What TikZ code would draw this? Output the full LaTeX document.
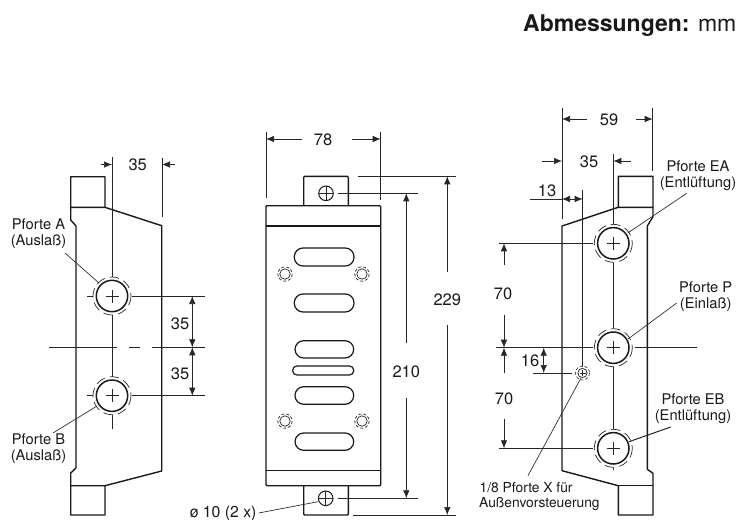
\documentclass[tikz,border=0pt]{standalone}
\usepackage{fontspec}
\setmainfont{TeX Gyre Heros}
\usetikzlibrary{arrows.meta}
\tikzset{
  x=1pt,y=-1pt,
  outline/.style={line width=1.4pt,line join=round,black!90},
  thinl/.style={line width=0.7pt,black!85},
  dimline/.style={thinl,-{Latex[length=8pt,width=6.5pt]}},
  dimboth/.style={thinl,{Latex[length=8pt,width=6.5pt]}-{Latex[length=8pt,width=6.5pt]}},
  leader/.style={line width=0.65pt,black!85},
  dimtxt/.style={inner sep=0pt,font=\fontsize{16.5}{18}\selectfont,text=black!90},
  lbl/.style={inner sep=0pt,align=center,font=\fontsize{14.7}{16}\selectfont,text=black!90},
  dashc/.style={line width=0.7pt,dash pattern=on 9.5pt off 5pt,black!85},
  slotb/.style={line width=1.2pt,rounded corners=8.7pt,black!90},
}
\newcommand{\porthole}[2]{%
  \coordinate (#1) at #2;
  \draw[outline,line width=1.5pt] (#1) circle (15.7);
  \draw[dashc] (#1) circle (19);
  \draw[line width=0.55pt,black!85] ([xshift=-6.5pt]#1) -- ([xshift=6.5pt]#1) ([yshift=-6.5pt]#1) -- ([yshift=6.5pt]#1);
}
\newcommand{\boltmark}[1]{%
  \draw[line width=0.7pt,black!85] #1 circle (5.2);
  \draw[line width=0.7pt,dash pattern=on 3pt off 2pt,black!85] #1 circle (7.2);
}
\newcommand{\screwhole}[2]{%
  \coordinate (#1) at #2;
  \draw[line width=1pt,black!90] (#1) circle (7.3);
  \draw[thinl] ([xshift=-7.3pt]#1) -- ([xshift=7.3pt]#1) ([yshift=-7.3pt]#1) -- ([yshift=7.3pt]#1);
}
\begin{document}
\begin{tikzpicture}
\useasboundingbox (0,0) rectangle (756,520);
% title
\node[anchor=base west,inner sep=0pt,font=\fontsize{23}{26}\selectfont,text=black!90] (title) at (523,31.5) {\textbf{Abmessungen:} mm};

% ---------- left view
\draw[outline] (70.7,207.3) -- (70.7,176.7) -- (105,176.7) -- (105,207.3) -- (161.7,225.7) -- (161.7,471) -- (105,485.7) -- (105,515) -- (70.7,515) -- (70.7,485.7) -- (105,485.7) -- (70.7,485.7) -- (70.7,473) -- (76,468) -- (76,226) -- (70.7,220) -- (70.7,207.3) -- (105,207.3);
\porthole{la}{(112,296)}
\porthole{lb}{(112,395.7)}
\draw[thinl] (112,157) -- (112,277) (112,315) -- (112,376.5) (112,415) -- (112,429);
\draw[thinl] (87,296) -- (93,296) (131.5,296) -- (205,296);
\draw[thinl] (87,395.7) -- (93,395.7) (131.5,395.7) -- (205,395.7);
\draw[thinl] (49,347.3) -- (117,347.3) (129,347.3) -- (140,347.3) (152,347.3) -- (205,347.3);
\coordinate (ld1) at (100.7,164.5);
\coordinate (ld2) at (112,164.5);
\coordinate (ld3) at (175,164.5);
\coordinate (ld4) at (162,164.5);
\draw[dimline] (ld1) -- (ld2);
\draw[dimline] (ld3) -- (ld4);
\draw[thinl] (162,158) -- (162,217);
\node[dimtxt] (l35a) at (137.7,164.5) {35};
\coordinate (lv1) at (192.3,296);
\coordinate (lv2) at (192.3,347.3);
\coordinate (lv3) at (192.3,395.7);
\draw[dimboth] (lv1) -- (lv2);
\draw[dimboth] (lv2) -- (lv3);
\node[dimtxt] (l35b) at (180,324) {35};
\node[dimtxt] (l35c) at (180,373.5) {35};
\node[lbl] (pa) at (38.5,234) {Pforte A\\(Auslaß)};
\node[lbl] (pb) at (38.5,449) {Pforte B\\(Auslaß)};
\coordinate (pae) at (65,253);
\coordinate (pbe) at (53,433);
\draw[leader] (pae) -- (99,283);
\draw[leader] (pbe) -- (97,406);

% ---------- centre view
\draw[outline,rounded corners=1pt] (266,485.7) rectangle (380.7,205.7);
\draw[outline] (266,226) -- (380.7,226) (266,470.7) -- (380.7,470.7);
\draw[outline,rounded corners=1pt] (303.7,205.7) -- (303.7,176.3) -- (348.3,176.3) -- (348.3,205.7);
\draw[outline,rounded corners=1pt] (303.7,485.7) -- (303.7,515) -- (348.3,515) -- (348.3,485.7);
\screwhole{st}{(326,193.3)}
\screwhole{sb}{(325.7,498.3)}
\draw[slotb] (294.3,248) rectangle (354,266);
\draw[slotb] (294.3,294) rectangle (354,312);
\draw[slotb] (295,340.7) rectangle (353.7,358);
\draw[slotb,rounded corners=4.2pt] (292.7,366) rectangle (353.7,375);
\draw[slotb] (295,386.7) rectangle (353.7,404.3);
\draw[slotb] (295,433) rectangle (353.7,450.3);
\boltmark{(285,274)}
\boltmark{(362,274)}
\boltmark{(285,421)}
\boltmark{(362,421)}
% 78
\draw[thinl] (266,132) -- (266,198) (380.7,132) -- (380.7,200);
\coordinate (c78l) at (266,139);
\coordinate (c78r) at (380.7,139);
\draw[dimline] (301.7,139) -- (c78l);
\draw[dimline] (351.7,139) -- (c78r);
\node[dimtxt] (d78) at (323,139.5) {78};
% 210
\draw[thinl] (338,193.3) -- (418,193.3) (338,498.3) -- (418,498.3);
\draw[dimline] (406.3,343) -- (406.3,193.3);
\draw[dimline] (406.3,398) -- (406.3,498.3);
\node[dimtxt] (d210) at (406.3,371.5) {210};
% 229
\draw[thinl] (358,176.3) -- (456,176.3) (353,515) -- (456,515);
\draw[dimline] (447.3,272) -- (447.3,176.3);
\draw[dimline] (447.3,325) -- (447.3,515);
\node[dimtxt] (d229) at (447.3,300) {229};
% dia
\node[lbl,anchor=east,font=\fontsize{15.8}{17}\selectfont] (dia) at (256.7,513) {ø 10 (2 x)};
\draw[leader] (dia.east) ++(2,0) -- (318,501.7);

% ---------- right view
\draw[outline] (618.3,207.3) -- (618.3,176.3) -- (653,176.3) -- (653,216.7) -- (647.3,226) -- (647.3,469.3) -- (653,473.3) -- (653,515) -- (618.3,515) -- (618.3,485.7) -- (562,470.7) -- (562,226) -- (618.3,207.3) -- (653,207.3);
\draw[outline] (618.3,485.7) -- (653,485.7);
\porthole{rea}{(613.3,243.3)}
\porthole{rp}{(613.3,347.7)}
\porthole{reb}{(613.3,448.3)}
\draw[thinl] (613.3,154) -- (613.3,224) (613.3,263) -- (613.3,328) (613.3,367) -- (613.3,429) (613.3,468) -- (613.3,470);
\draw[thinl] (499,243.3) -- (593,243.3) (495.7,347.7) -- (593,347.7) (635,347.7) -- (696.7,347.7) (499,448.3) -- (593,448.3);
% 59
\draw[thinl] (562,108) -- (562,219) (652.7,108) -- (652.7,171);
\draw[dimline] (586.7,119) -- (562,119);
\draw[dimline] (635.7,119) -- (652.7,119);
\node[dimtxt] (d59) at (609,119.5) {59};
% 35
\draw[dimline] (542,161) -- (562,161);
\draw[dimline] (630.7,161) -- (613.3,161);
\node[dimtxt] (d35r) at (589,161.5) {35};
% 13
\draw[thinl] (530,199) -- (562,199);
\draw[thinl] (582.7,190) -- (582.7,367);
\draw[dimboth] (562,199) -- (582.7,199);
\node[dimtxt] (d13) at (547,190.5) {13};
% small hole
\coordinate (sx) at (582.5,373);
\draw[line width=0.75pt,black!85] (sx) circle (4.6);
\draw[line width=0.6pt,dash pattern=on 3pt off 2pt,black!85] (sx) circle (7);
\draw[line width=0.5pt,black!85] ([xshift=-3pt]sx) -- ([xshift=3pt]sx) ([yshift=-3pt]sx) -- ([yshift=3pt]sx);
% 70 / 70
\draw[dimline] (504,265) -- (504,243.3);
\draw[dimline] (504,315) -- (504,347.7);
\draw[dimline] (504,373) -- (504,347.7);
\draw[dimline] (504,419) -- (504,448.3);
\node[dimtxt] (d70a) at (503,293.5) {70};
\node[dimtxt] (d70b) at (504,398.5) {70};
% 16
\draw[thinl] (533,373) -- (571.7,373);
\draw[dimboth] (543.7,347.7) -- (543.7,373);
\node[dimtxt] (d16) at (530,360.7) {16};
% labels
\node[lbl] (pea) at (698,176) {Pforte EA\\(Entlüftung)};
\node[lbl] (pp) at (705.7,296.5) {Pforte P\\(Einlaß)};
\node[lbl] (peb) at (693,408.5) {Pforte EB\\(Entlüftung)};
\node[lbl,anchor=west,font=\fontsize{13.8}{16}\selectfont] (px1) at (479.5,487.5) {1/8 Pforte X für};
\node[lbl,anchor=west,font=\fontsize{13.8}{16}\selectfont] (px2) at (479,503.5) {Außenvorsteuerung};
\draw[leader] (686.7,193.3) -- (627.7,233);
\draw[leader] (676.7,303) -- (628,339);
\draw[leader,line width=1pt] (670.7,427) -- (629,441.7);
\draw[leader] (581,378) -- (528,475.7);
\end{tikzpicture}
\end{document}
